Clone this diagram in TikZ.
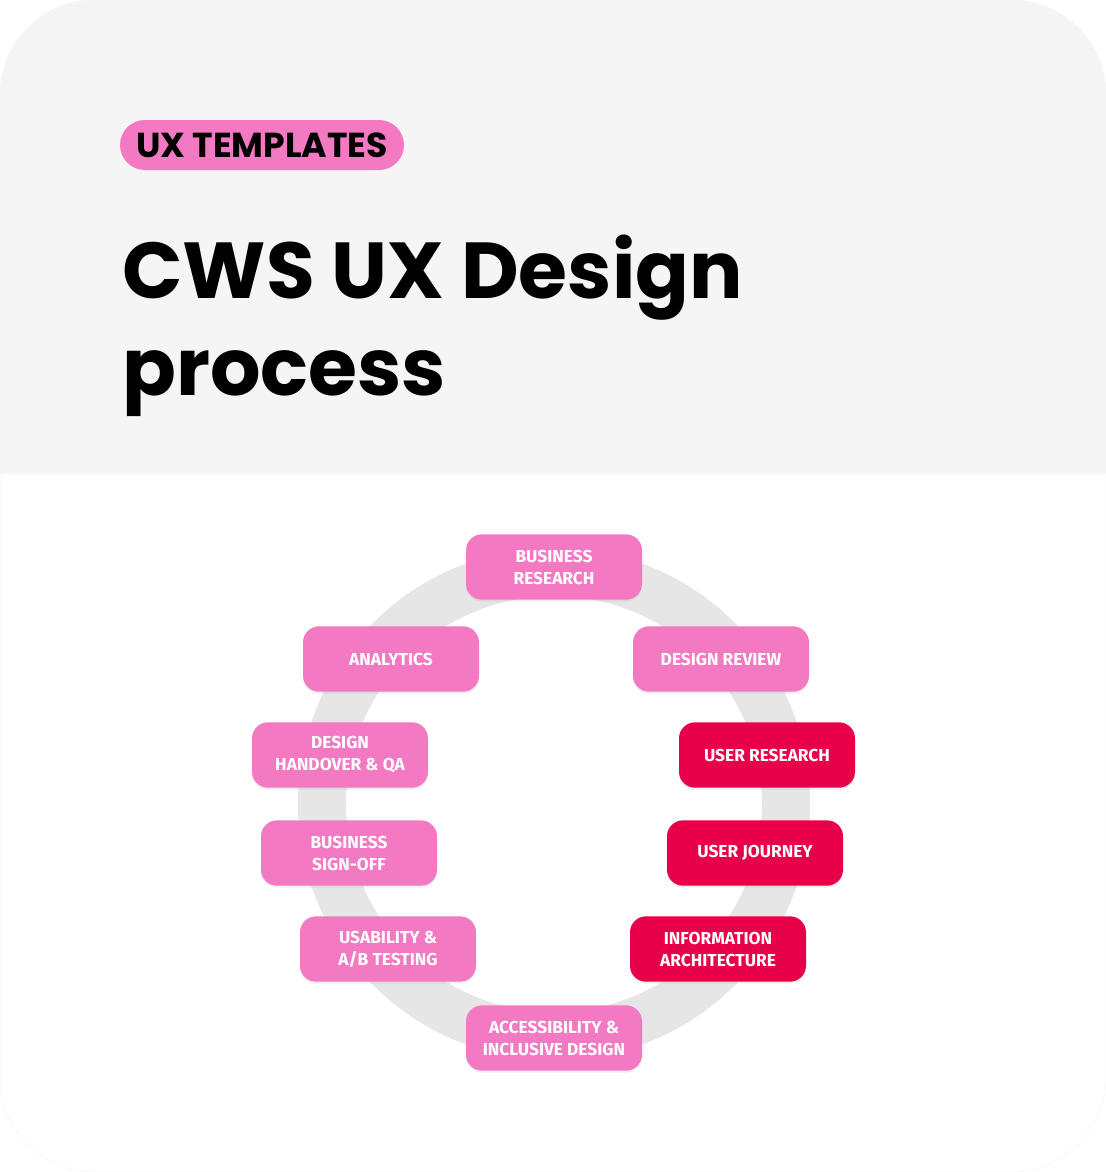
\documentclass[tikz,border=0pt]{standalone}
\usepackage{fontspec}
\setmainfont{Fira Sans}
\newfontfamily\headfont{Poppins}
\usetikzlibrary{shadows}

\definecolor{cardgray}{HTML}{F5F5F5}
\definecolor{ringgray}{HTML}{E6E6E6}
\definecolor{stagepink}{HTML}{F279C2}
\definecolor{stagered}{HTML}{E8004A}

\begin{document}
\begin{tikzpicture}[x=0.75pt,y=-0.75pt,
    stage/.style={fill=stagepink, text=white, rounded corners=12pt,
      minimum width=132pt, minimum height=49pt, inner sep=2pt,
      align=center, font=\fontsize{13}{16.5}\selectfont\bfseries,
      drop shadow={opacity=0.12, shadow xshift=0pt, shadow yshift=-1.5pt}},
    userstage/.style={stage, fill=stagered},
    badge/.style={fill=stagepink, rounded corners=18.75pt,
      minimum width=213pt, minimum height=37.5pt, inner sep=0pt,
      font=\headfont\bfseries\fontsize{26}{26}\selectfont},
    heading/.style={anchor=base west, inner sep=0pt,
      font=\headfont\bfseries\fontsize{59.5}{60}\selectfont}]

  \useasboundingbox (0,0) rectangle (1106,1172);

  % card
  \fill[white, draw=black!4] (0,0) [rounded corners=71pt] rectangle (1106,1172);
  \begin{scope}
    \clip (0,0) [rounded corners=71pt] rectangle (1106,1172);
    \fill[cardgray] (0,0) rectangle (1106,474);
  \end{scope}

  {
    \node[badge] (tag) at (262,145) {UX TEMPLATES};

    \node[heading] (title) at (122,298) {CWS UX Design};
    \node[heading] (titletwo) at (122,395) {process};
  }

  % cycle
  \draw[ringgray, line width=36pt] (554,804) circle[radius=232];

  {
    \node[stage] (bizresearch) at (554,567) {BUSINESS\\RESEARCH};
    \node[stage] (review) at (721,659) {DESIGN REVIEW};
    \node[userstage] (userresearch) at (767,755) {USER RESEARCH};
    \node[userstage] (journey) at (755,853) {USER JOURNEY};
    \node[userstage] (infoarch) at (718,949) {INFORMATION\\ARCHITECTURE};
    \node[stage] (access) at (554,1038) {ACCESSIBILITY \&\\INCLUSIVE DESIGN};
    \node[stage] (usability) at (388,949) {USABILITY \&\\A/B TESTING};
    \node[stage] (signoff) at (349,853) {BUSINESS\\SIGN-OFF};
    \node[stage] (handover) at (340,755) {DESIGN\\HANDOVER \& QA};
    \node[stage] (analytics) at (391,659) {ANALYTICS};
  }
\end{tikzpicture}
\end{document}
